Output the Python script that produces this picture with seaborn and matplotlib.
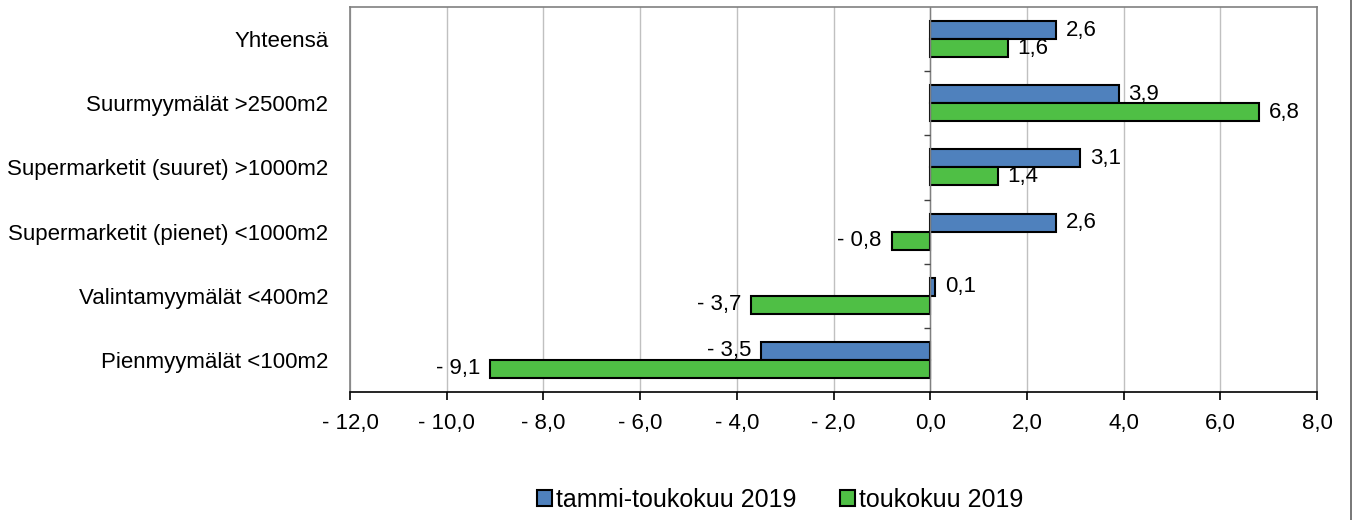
import pandas as pd
import matplotlib.pyplot as plt
import seaborn as sns
from matplotlib.ticker import FuncFormatter, MultipleLocator
from matplotlib.lines import Line2D

categories = ["Yhteensä", "Suurmyymälät >2500m2", "Supermarketit (suuret) >1000m2",
              "Supermarketit (pienet) <1000m2", "Valintamyymälät <400m2", "Pienmyymälät <100m2"]
series = ["tammi-toukokuu 2019", "toukokuu 2019"]
tammi_touko = [2.6, 3.9, 3.1, 2.6, 0.1, -3.5]
touko = [1.6, 6.8, 1.4, -0.8, -3.7, -9.1]
colors = ["#4f81bd", "#4fbf45"]

df = pd.DataFrame({
    "kategoria": categories * 2,
    "sarja": [series[0]] * len(categories) + [series[1]] * len(categories),
    "arvo": tammi_touko + touko,
})

sns.set_style("white")
plt.rcParams["font.family"] = ["Liberation Sans", "DejaVu Sans"]
plt.rcParams["text.color"] = "black"
plt.rcParams["xtick.labelcolor"] = "black"
plt.rcParams["ytick.labelcolor"] = "black"


def fi(v):
    s = f"{abs(v):.1f}".replace(".", ",")
    return "- " + s if v < -1e-9 else s


fig, ax = plt.subplots(figsize=(13.54, 5.2), dpi=100)
fig.subplots_adjust(left=350 / 1354, right=1317 / 1354, top=1 - 7 / 520, bottom=1 - 392 / 520)

sns.barplot(data=df, y="kategoria", x="arvo", hue="sarja", orient="h",
            palette=colors, width=0.56, edgecolor="black", linewidth=1.5,
            saturation=1, legend=True, ax=ax)

for cont in ax.containers:
    ax.bar_label(cont, labels=[fi(b.get_width()) for b in cont],
                 padding=7, fontsize=16, color="black")

ax.set_xlim(-12, 8)
ax.set_ylim(5.5, -0.5)
ax.xaxis.set_major_locator(MultipleLocator(2))
ax.xaxis.set_major_formatter(FuncFormatter(lambda v, p: fi(v)))
ax.grid(axis="x", color="#c0c0c0", linewidth=1)
ax.set_axisbelow(True)
ax.set_xlabel("")
ax.set_ylabel("")

# zero axis with category separators
ax.axvline(0, color="#808080", linewidth=1, zorder=1.5)
ax.hlines([0.5, 1.5, 2.5, 3.5, 4.5], -0.13, 0, color="#404040", linewidth=1)

for side in ["left", "top", "right"]:
    ax.spines[side].set_color("#808080")
    ax.spines[side].set_linewidth(1.2)
ax.spines["bottom"].set_color("black")
ax.spines["bottom"].set_linewidth(1.2)
ax.tick_params(axis="x", bottom=True, length=6, width=1.2, color="black",
               labelcolor="black", labelsize=16, pad=9)
ax.tick_params(axis="y", left=False, labelcolor="black", labelsize=16, pad=12)

leg = ax.legend(loc="center", bbox_to_anchor=(780 / 1354, 0.038), bbox_transform=fig.transFigure,
                ncol=2, frameon=False, fontsize=18, handlelength=0.6, handleheight=0.6,
                handletextpad=0.15, columnspacing=1.75)
for t in leg.get_texts():
    t.set_color("black")

fig.add_artist(Line2D([0.9975, 0.9975], [0, 1], color="#606060", linewidth=1.2))

fig.savefig("out.png", dpi=100, facecolor="white")
